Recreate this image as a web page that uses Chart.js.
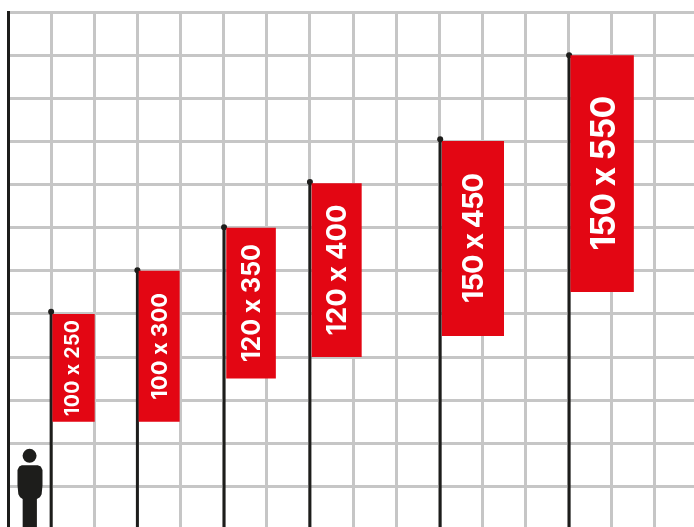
<!DOCTYPE html>
<html>
<head>
<meta charset="utf-8">
<style>
    html, body { margin: 0; padding: 0; background: #fff; overflow: hidden; }
    canvas { display: block; }
</style>
<script src="https://cdn.jsdelivr.net/npm/chart.js@4"></script>
</head>
<body>
<canvas id="banderas" width="694" height="527"></canvas>
<script>
// all values in cm, one grid cell = 100 cm
var etiquetas = ["100 x 250", "100 x 300", "120 x 350", "120 x 400", "150 x 450", "150 x 550"];
var mastilX = [100, 300, 501, 700, 1002, 1301];
var mastilAlto = [505, 601, 701, 806, 905, 1100];
var banderaIzq = [103, 303, 506, 704, 1006, 1304];
var banderaDer = [201, 398, 621, 820, 1150, 1451];
var banderaArriba = [500, 600, 700, 803, 901, 1100];
var banderaAbajo = [250, 250, 350, 400, 449, 551];

var personaX = [32, 69, 76, 80, 80, 78, 74, 67, 67, 34, 34, 28, 24, 22, 22, 26, 32];
var personaY = [149, 149, 146, 138, 103, 82, 75, 71, 0, 0, 71, 75, 82, 103, 138, 146, 149];
var cabezaX = [50];
var cabezaY = [171];

var marcasX = [0, 100, 200, 300, 400, 500, 600, 700, 800, 900, 1000, 1100, 1200, 1300, 1400, 1500];
var marcasY = [100, 200, 300, 400, 500, 600, 700, 800, 900, 1000, 1100, 1200];

var tamanos = [19.5, 22, 25, 27.5, 29, 34];
var anchos = [96, 107, 118, 131, 130, 155];
var ajusteX = [-2, 0, 0, -1, 0, 1];

var rojo = "#e30613";
var negro = "#1d1d1b";
var gris = "#c6c6c6";

var datasets = [];

// banderas como rectangulos cerrados
etiquetas.forEach(function (et, i) {
    datasets.push({
        label: et,
        showLine: true,
        fill: "shape",
        backgroundColor: rojo,
        borderWidth: 0,
        pointRadius: 0,
        data: [
            { x: banderaIzq[i], y: banderaArriba[i] },
            { x: banderaDer[i], y: banderaArriba[i] },
            { x: banderaDer[i], y: banderaAbajo[i] },
            { x: banderaIzq[i], y: banderaAbajo[i] },
            { x: banderaIzq[i], y: banderaArriba[i] }
        ]
    });
    // mastil
    datasets.push({
        showLine: true,
        borderColor: negro,
        borderWidth: 3,
        pointRadius: [0, 3],
        pointBackgroundColor: negro,
        pointBorderWidth: 0,
        data: [{ x: mastilX[i], y: 0 }, { x: mastilX[i], y: mastilAlto[i] }]
    });
});

// persona
datasets.push({
    showLine: true,
    fill: "shape",
    backgroundColor: negro,
    borderWidth: 0,
    pointRadius: 0,
    data: personaX.map(function (x, i) { return { x: x, y: personaY[i] }; })
});
datasets.push({
    pointRadius: 7,
    pointBackgroundColor: negro,
    pointBorderWidth: 0,
    data: cabezaX.map(function (x, i) { return { x: x, y: cabezaY[i] }; })
});

var textoBanderas = {
    id: "textoBanderas",
    afterDatasetsDraw: function (chart) {
        var ctx = chart.ctx;
        var x = chart.scales.x;
        var y = chart.scales.y;
        etiquetas.forEach(function (et, i) {
            var cx = x.getPixelForValue((banderaIzq[i] + banderaDer[i]) / 2) + ajusteX[i];
            var cy = y.getPixelForValue((banderaArriba[i] + banderaAbajo[i]) / 2);
            ctx.save();
            ctx.translate(cx, cy);
            ctx.rotate(-Math.PI / 2);
            ctx.font = "700 " + tamanos[i] + "px Inter";
            ctx.fillStyle = "#ffffff";
            ctx.textAlign = "center";
            ctx.textBaseline = "alphabetic";
            // espaciado para que el texto ocupe lo mismo que en la foto
            ctx.letterSpacing = ((anchos[i] - ctx.measureText(et).width) / (et.length - 1)) + "px";
            // baseline a media altura de los digitos
            ctx.fillText(et, 0, tamanos[i] * 0.36);
            ctx.restore();
        });
    }
};

function marcas(lista) {
    return function (scale) {
        scale.ticks = lista.map(function (v) { return { value: v }; });
    };
}

new Chart(document.getElementById("banderas").getContext("2d"), {
    type: "scatter",
    data: { datasets: datasets },
    plugins: [textoBanderas],
    options: {
        responsive: false,
        animation: false,
        devicePixelRatio: 1,
        layout: { autoPadding: false, padding: { left: 8, top: 12, right: 0, bottom: 0 } },
        plugins: { legend: { display: false }, tooltip: { enabled: false } },
        scales: {
            x: {
                type: "linear",
                min: 0,
                max: 1590.5,
                afterBuildTicks: marcas(marcasX),
                border: { display: false },
                ticks: { display: false },
                grid: { drawTicks: false, tickLength: 0, lineWidth: 3, color: gris },
                afterFit: function (scale) { scale.height = 0; }
            },
            y: {
                type: "linear",
                min: 6,
                max: 1200,
                afterBuildTicks: marcas(marcasY),
                border: { display: true, color: negro, width: 3 },
                ticks: { display: false },
                grid: { drawTicks: false, tickLength: 0, lineWidth: 3, color: gris },
                afterFit: function (scale) { scale.width = 0; }
            }
        }
    }
});
</script>
</body>
</html>
